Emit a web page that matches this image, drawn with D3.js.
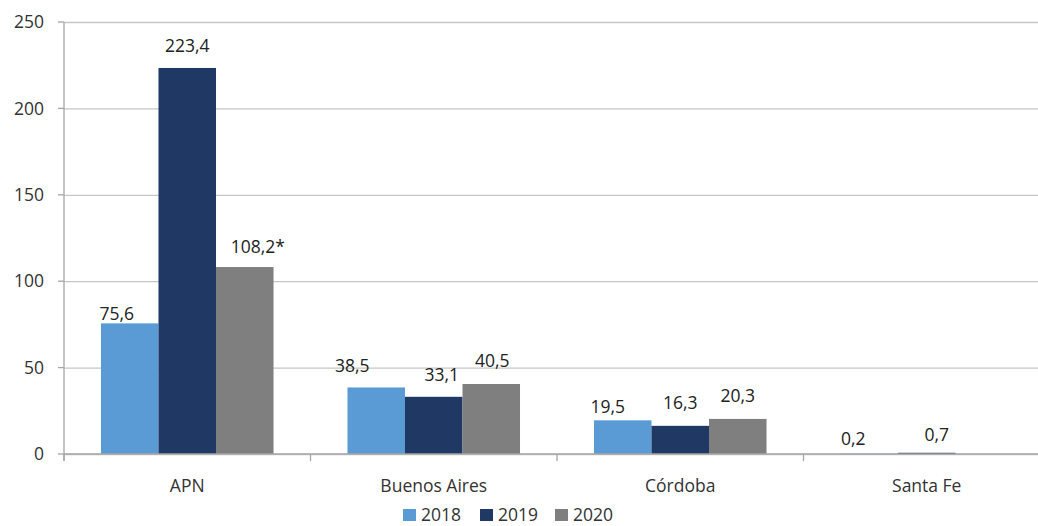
<!DOCTYPE html>
<html>
<head>
<meta charset="utf-8">
<script src="https://cdn.jsdelivr.net/npm/d3@7"></script>
<style>
  body { margin: 0; background: #fff; }
  svg { font-family: "Open Sans", Lato, sans-serif; }
  .grid line { stroke: #c6c6c6; stroke-width: 1.3; }
  .grid .domain { display: none; }
  .axis-line { stroke: #a6a6a6; stroke-width: 1.3; }
  .tick-label { fill: #333; font-size: 17.5px; }
  .bar-label { fill: #222; font-size: 17.5px; }
</style>
</head>
<body>
<svg id="chart" width="1038" height="526"></svg>
<script>
const categories = ["APN", "Buenos Aires", "Córdoba", "Santa Fe"];
const series = ["2018", "2019", "2020"];
const values2018 = [75.6, 38.5, 19.5, 0.2];
const values2019 = [223.4, 33.1, 16.3, 0.7];
const values2020 = [108.2, 40.5, 20.3, null];
const labelSuffix2020 = ["*", "", "", ""];
const yTicks = [0, 50, 100, 150, 200, 250];
const colors = ["#5b9bd5", "#203864", "#7f7f7f"];

// hand nudges for the value labels, as in the source sheet [dx, dy]
const labelNudge = [
  [[-13, 13], [0, 0], [13, 2]],
  [[-24, 1], [8, 0], [1, -1]],
  [[-15, 9], [0, -1], [0, -1]],
  [[-16, 7], [10, 4], [0, 0]]
];

const seriesValues = [values2018, values2019, values2020];

const svg = d3.select("#chart");
const plotLeft = 64, plotRight = 1050, plotTop = 22, plotBottom = 454;

const x0 = d3.scaleBand()
             .domain(categories)
             .range([plotLeft, plotRight])
             .padding(0);

const x1 = d3.scaleBand()
             .domain(series)
             .range([0, x0.bandwidth()])
             .paddingInner(0)
             .paddingOuter(0.643);

const y = d3.scaleLinear()
            .domain([0, 250])
            .range([plotBottom, plotTop]);

// gridlines
const yGrid = d3.axisLeft(y)
                .tickValues(yTicks)
                .tickSize(-(plotRight - plotLeft))
                .tickFormat("");

svg.append("g")
   .attr("class", "grid")
   .attr("transform", `translate(${plotLeft},0)`)
   .call(yGrid);

// y axis line + small ticks
svg.append("line")
   .attr("class", "axis-line")
   .attr("x1", plotLeft).attr("x2", plotLeft)
   .attr("y1", plotTop).attr("y2", plotBottom + 7);

svg.selectAll(".ytick")
   .data(yTicks)
   .enter()
   .append("line")
   .attr("class", "axis-line")
   .attr("x1", plotLeft - 6).attr("x2", plotLeft)
   .attr("y1", d => y(d)).attr("y2", d => y(d));

svg.selectAll(".ylabel")
   .data(yTicks)
   .enter()
   .append("text")
   .attr("class", "tick-label")
   .attr("x", 44)
   .attr("y", d => y(d))
   .attr("dy", "0.35em")
   .attr("text-anchor", "end")
   .text(d => d);

// category boundary ticks
svg.selectAll(".xtick")
   .data(categories)
   .enter()
   .append("line")
   .attr("class", "axis-line")
   .attr("x1", d => x0(d)).attr("x2", d => x0(d))
   .attr("y1", plotBottom).attr("y2", plotBottom + 7);

svg.selectAll(".xlabel")
   .data(categories)
   .enter()
   .append("text")
   .attr("class", "tick-label")
   .attr("x", d => x0(d) + x0.bandwidth() / 2)
   .attr("y", 492)
   .attr("text-anchor", "middle")
   .text(d => d);

// bars
const rows = [];
categories.forEach((c, ci) => {
  series.forEach((s, si) => {
    rows.push({ cat: c, ci: ci, s: s, si: si, v: seriesValues[si][ci] });
  });
});
const present = rows.filter(d => d.v !== null);

svg.append("g")
   .selectAll("rect")
   .data(present)
   .enter()
   .append("rect")
   .attr("x", d => x0(d.cat) + x1(d.s))
   .attr("y", d => y(d.v))
   .attr("width", x1.bandwidth())
   .attr("height", d => y(0) - y(d.v))
   .attr("fill", d => colors[d.si]);

// baseline over the bars
svg.append("line")
   .attr("class", "axis-line")
   .attr("x1", plotLeft).attr("x2", plotRight)
   .attr("y1", plotBottom).attr("y2", plotBottom);

const fmt = v => d3.format(".1f")(v).replace(".", ",");

svg.append("g")
   .selectAll("text")
   .data(present)
   .enter()
   .append("text")
   .attr("class", "bar-label")
   .attr("x", d => x0(d.cat) + x1(d.s) + x1.bandwidth() / 2 + labelNudge[d.ci][d.si][0])
   .attr("y", d => y(d.v) - 16 + labelNudge[d.ci][d.si][1])
   .attr("text-anchor", "middle")
   .text(d => fmt(d.v) + (d.si === 2 ? labelSuffix2020[d.ci] : ""));

// legend
const legendX = [403, 480, 555];
const legend = svg.append("g");
series.forEach((s, i) => {
  legend.append("rect")
        .attr("x", legendX[i]).attr("y", 509)
        .attr("width", 13).attr("height", 12)
        .attr("fill", colors[i]);
  legend.append("text")
        .attr("class", "tick-label")
        .attr("x", legendX[i] + 18).attr("y", 521)
        .text(s);
});
</script>
</body>
</html>
